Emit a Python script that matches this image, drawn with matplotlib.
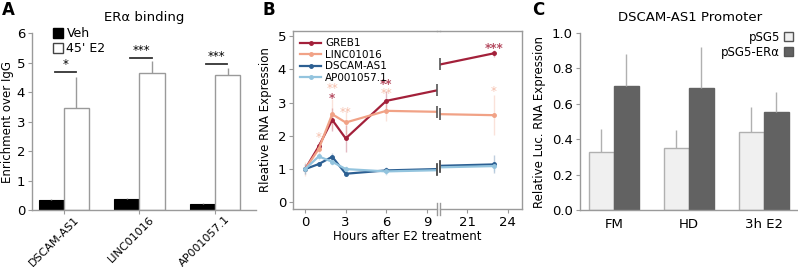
import numpy as np
import matplotlib
matplotlib.use('Agg')
import matplotlib.pyplot as plt
from matplotlib.patches import Patch
from matplotlib.lines import Line2D
from matplotlib.transforms import ScaledTranslation

# Panel A: ER-alpha ChIP
genes = ['DSCAM-AS1', 'LINC01016', 'AP001057.1']
veh = [0.34, 0.37, 0.20]
veh_err = [0.03, 0.04, 0.04]
e2 = [3.46, 4.65, 4.56]
e2_err = [1.06, 0.40, 0.25]
sig_a = ['*', '***', '***']
sig_a_y = [4.68, 5.16, 4.95]

# Panel B: time course
hours = [0, 1, 2, 3, 6, 23]
greb1 = [1.0, 1.68, 2.48, 1.92, 3.05, 4.48]
greb1_err = [0.05, 0.12, 0.35, 0.40, 0.30, 0.10]
linc = [1.0, 1.60, 2.65, 2.40, 2.75, 2.62]
linc_err = [0.20, 0.20, 0.45, 0.35, 0.30, 0.60]
dscam = [1.0, 1.15, 1.37, 0.86, 0.96, 1.14]
dscam_err = [0.15, 0.05, 0.10, 0.05, 0.10, 0.27]
ap = [1.0, 1.38, 1.22, 1.00, 0.93, 1.09]
ap_err = [0.15, 0.10, 0.10, 0.10, 0.10, 0.15]
# stars: (hour, y, text)
greb1_stars = [(2, 3.12, '*'), (6, 3.55, '**'), (23, 4.62, '***')]
linc_stars = [(1, 1.95, '*'), (2, 3.42, '**'), (3, 2.70, '**'), (6, 3.28, '**'), (23, 3.33, '*')]

# Panel C: luciferase
conditions = ['FM', 'HD', '3h E2']
psg5 = [0.33, 0.35, 0.44]
psg5_err = [0.13, 0.10, 0.14]
psg5_era = [0.70, 0.69, 0.555]
psg5_era_err = [0.18, 0.23, 0.11]

GRAY = '#9a9a9a'
plt.rcParams['font.family'] = 'DejaVu Sans'

fig = plt.figure(figsize=(7.98, 2.67), dpi=100)
W, H = 798.0, 267.0

def box(l, t, r, b):
    return [l / W, 1 - b / H, (r - l) / W, (b - t) / H]

def style(ax, spines=('left', 'bottom')):
    for s in ['left', 'right', 'top', 'bottom']:
        ax.spines[s].set_visible(s in spines)
        ax.spines[s].set_color(GRAY)
        ax.spines[s].set_linewidth(1.0)
    ax.tick_params(direction='out', length=3, color=GRAY, labelsize=9.5, pad=2)

# ---------------- A ----------------
axA = fig.add_axes(box(32, 33, 256, 210))
x = np.arange(len(genes))
w = 0.333
axA.bar(x - w / 2, veh, w, color='black', edgecolor='black', linewidth=0.8,
        yerr=[np.zeros(3), veh_err], error_kw=dict(ecolor=GRAY, elinewidth=1, capsize=0))
axA.bar(x + w / 2, e2, w, color='white', edgecolor=GRAY, linewidth=1.0,
        yerr=[np.zeros(3), e2_err], error_kw=dict(ecolor=GRAY, elinewidth=1, capsize=0))
for i in range(len(genes)):
    axA.plot([x[i] - 0.12, x[i] + 0.16], [sig_a_y[i]] * 2, color='#333333', lw=1.3)
    axA.text(x[i] + 0.02, sig_a_y[i] + 0.02, sig_a[i], ha='center', va='bottom', fontsize=8.5)
axA.set_xlim(-0.42, 2.54)
axA.set_ylim(0, 6)
axA.set_yticks(range(7))
axA.set_xticks(x)
style(axA)
axA.set_xticklabels(genes, rotation=45, ha='right', rotation_mode='anchor', fontsize=8)
axA.tick_params(axis='x', pad=0)
shift = ScaledTranslation(7 / 72, 0, fig.dpi_scale_trans)
for lab in axA.get_xticklabels():
    lab.set_transform(lab.get_transform() + shift)
axA.set_ylabel('Enrichment over IgG', fontsize=8.5, labelpad=2)
axA.set_title('ERα binding', fontsize=9.5, pad=9)
axA.legend(handles=[Patch(facecolor='black', edgecolor='black', label='Veh'),
                    Patch(facecolor='white', edgecolor='#444444', label="45' E2")],
           loc='upper left', bbox_to_anchor=(0.07, 1.06), frameon=False, fontsize=9,
           handlelength=0.8, handleheight=0.8, handletextpad=0.3, labelspacing=0.15,
           borderaxespad=0)

# ---------------- B ----------------
axL = fig.add_axes(box(293, 31, 436.7, 209))
axR = fig.add_axes(box(440, 31, 522, 209), sharey=axL)
series = [
    ('GREB1', greb1, greb1_err, '#a3203a'),
    ('LINC01016', linc, linc_err, '#f1a286'),
    ('DSCAM-AS1', dscam, dscam_err, '#2c5f92'),
    ('AP001057.1', ap, ap_err, '#93c4de'),
]
left_lim = (-0.9, 9.73)
right_lim = (19.0, 25.07)
for ax in (axL, axR):
    for name, vals, err, col in series:
        ax.errorbar(hours, vals, yerr=err, fmt='none', ecolor=col, alpha=0.3, lw=1, capsize=0)
    for name, vals, err, col in series:
        ax.plot(hours, vals, '-o', color=col, lw=1.6, ms=2.5, label=name)
# break tick markers where lines are cut
for name, vals, err, col in series:
    axL.plot([left_lim[1]], [np.interp(left_lim[1], hours, vals)], marker='|', ms=9,
             mew=1.2, color='#555555', clip_on=False)
    axR.plot([right_lim[0]], [np.interp(right_lim[0], hours, vals)], marker='|', ms=9,
             mew=1.2, color='#555555', clip_on=False)
for ax, lim in ((axL, left_lim), (axR, right_lim)):
    for hx, hy, s in greb1_stars:
        if lim[0] <= hx <= lim[1]:
            ax.text(hx, hy, s, color='#a3203a', alpha=0.8, ha='center', va='center',
                    fontsize=8.5, fontweight='bold')
    for hx, hy, s in linc_stars:
        if lim[0] <= hx <= lim[1]:
            ax.text(hx, hy, s, color='#f1a286', alpha=0.7, ha='center', va='center',
                    fontsize=8.5)
axL.set_xlim(*left_lim)
axR.set_xlim(*right_lim)
axL.set_ylim(-0.2, 5.15)
axL.set_yticks(range(6))
axL.set_xticks([0, 3, 6, 9])
axR.set_xticks([21, 24])
style(axL, ('left', 'bottom', 'top'))
style(axR, ('right', 'bottom', 'top'))
axR.tick_params(axis='y', left=False, labelleft=False, right=False)
# bottom break marks
axL.plot([1, 1], [-0.035, 0.035], transform=axL.transAxes, color=GRAY, lw=1, clip_on=False)
axR.plot([0, 0], [-0.035, 0.035], transform=axR.transAxes, color=GRAY, lw=1, clip_on=False)
# bridge the top spine over the gap
fig.add_artist(Line2D([436.7 / W, 440 / W], [1 - 31 / H] * 2, color=GRAY, lw=1.0))
axL.set_ylabel('Rleative RNA Expression', fontsize=8.5, labelpad=4)
fig.text(407.5 / W, 1 - 237 / H, 'Hours after E2 treatment', ha='center', va='center', fontsize=8.5)
axL.legend(loc='upper left', frameon=False, fontsize=7.5, handlelength=2.0,
           handletextpad=0.4, labelspacing=0.15, borderaxespad=0.3)

# ---------------- C ----------------
axC = fig.add_axes(box(580, 33, 800, 210))
xc = np.arange(len(conditions))
axC.bar(xc - w / 2, psg5, w, color='#f0f0f0', edgecolor='#b0b0b0', linewidth=1,
        yerr=[np.zeros(3), psg5_err], error_kw=dict(ecolor='#b0b0b0', elinewidth=1, capsize=0))
axC.bar(xc + w / 2, psg5_era, w, color='#626262', edgecolor='#626262', linewidth=1,
        yerr=[np.zeros(3), psg5_era_err], error_kw=dict(ecolor='#b0b0b0', elinewidth=1, capsize=0))
axC.set_xlim(-0.45, 2.48)
axC.set_ylim(0, 1.0)
axC.set_yticks(np.arange(0, 1.01, 0.2))
axC.set_yticklabels(['0.0', '0.2', '0.4', '0.6', '0.8', '1.0'])
axC.set_xticks(xc)
axC.set_xticklabels(conditions)
style(axC)
axC.tick_params(axis='x', length=0, pad=6)
axC.set_ylabel('Relative Luc. RNA Expression', fontsize=8.5, labelpad=4)
axC.set_title('DSCAM-AS1 Promoter', fontsize=9.5, pad=9)
axC.legend(handles=[Patch(facecolor='#f0f0f0', edgecolor='#555555', label='pSG5'),
                    Patch(facecolor='#626262', edgecolor='#555555', label='pSG5-ERα')],
           loc='upper right', bbox_to_anchor=(0.99, 1.04), frameon=False, fontsize=8.5,
           markerfirst=False, handlelength=0.8, handleheight=0.8, handletextpad=0.3,
           labelspacing=0.2, borderaxespad=0)

# panel letters
for lx, letter in [(2, 'A'), (262, 'B'), (532, 'C')]:
    fig.text(lx / W, 1 - 10 / H, letter, fontsize=12, fontweight='bold', va='center', ha='left')

fig.savefig('out.png', dpi=100)
